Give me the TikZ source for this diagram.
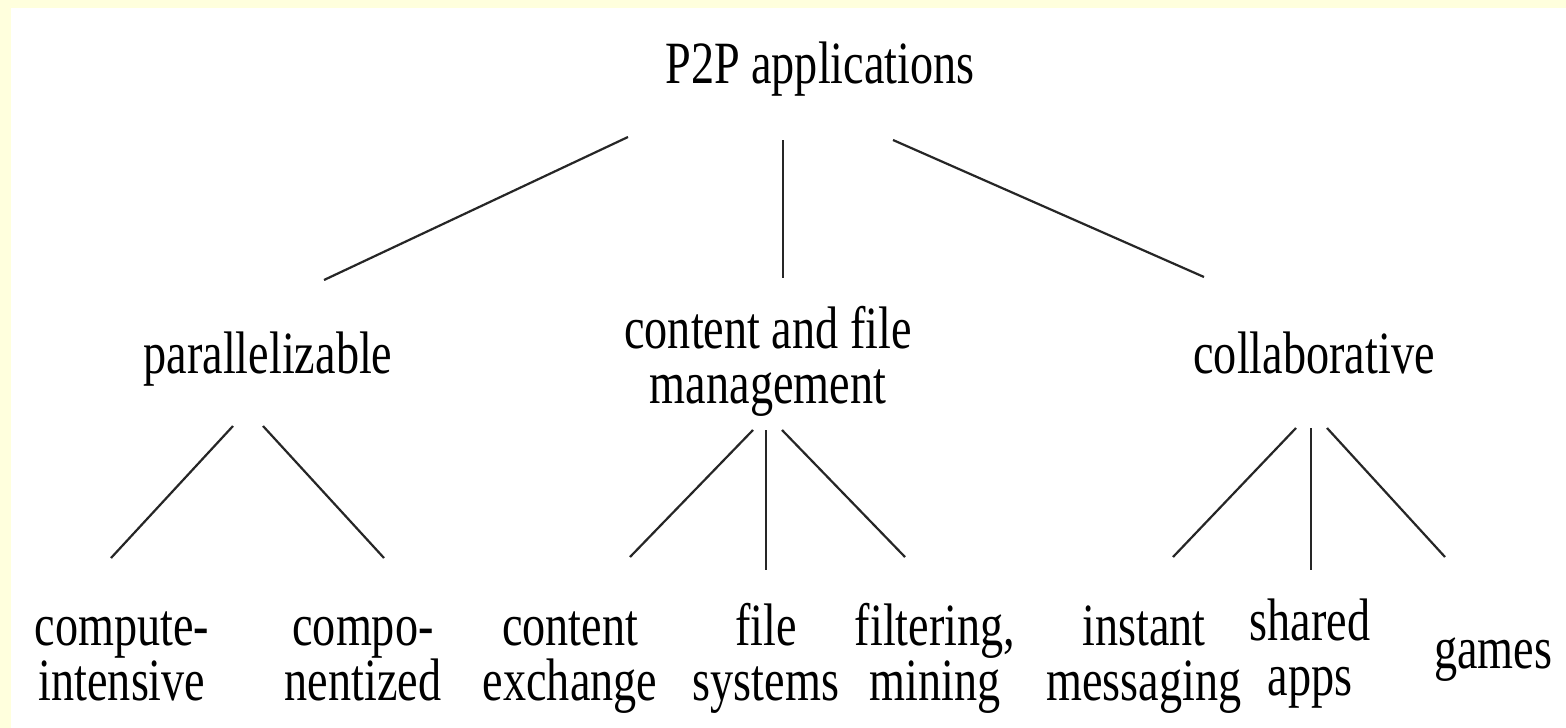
\documentclass[tikz,border=0pt]{standalone}
\usepackage{fontspec}
\setmainfont{Liberation Serif}[FakeStretch=0.77]
\definecolor{paleyellow}{RGB}{255,255,221}
\begin{document}
\begin{tikzpicture}[x=1pt,y=-1pt,
  lbl/.style={font=\fontsize{60}{55}\selectfont, inner sep=0pt, anchor=base, align=center},
  edge/.style={draw=black!85, line width=2.2pt}]
% page: pale yellow strip on the top and left, white sheet elsewhere
\fill[paleyellow] (0,0) rectangle (1566,728);
\fill[white] (11,8) rectangle (1566,728);
\useasboundingbox (0,0) rectangle (1566,728);

% tree labels (multi-line labels are placed by the baseline of their last line)
\node[lbl] (root) at (820,83) {P2P applications};
\node[lbl] (par) at (268,373) {parallelizable};
\node[lbl] (cfm) at (768,403) {content and file\\management};
\node[lbl] (col) at (1314,373) {collaborative};
\node[lbl] (ci) at (122,700) {compute-\\intensive};
\node[lbl] (cz) at (363,700) {compo-\\nentized};
\node[lbl] (ce) at (570,700) {content\\exchange};
\node[lbl] (fs) at (766,700) {file\\systems};
\node[lbl] (fm) at (935,700) {filtering,\\mining};
\node[lbl] (im) at (1144,700) {instant\\messaging};
\node[lbl] (sa) at (1310,695) {shared\\apps};
\node[lbl] (gm) at (1493,668) {games};

% end points of the branches
\coordinate (root-par) at (628,137);  \coordinate (par-top) at (324,280);
\coordinate (root-cfm) at (783,140);  \coordinate (cfm-top) at (783,278);
\coordinate (root-col) at (893,140);  \coordinate (col-top) at (1204,277);

\coordinate (par-ci) at (233,426);    \coordinate (ci-top) at (111,558);
\coordinate (par-cz) at (263,426);    \coordinate (cz-top) at (384,558);
\coordinate (cfm-ce) at (753,430);    \coordinate (ce-top) at (630,557);
\coordinate (cfm-fs) at (766,430);    \coordinate (fs-top) at (766,570);
\coordinate (cfm-fm) at (782,430);    \coordinate (fm-top) at (905,557);
\coordinate (col-im) at (1296,428);   \coordinate (im-top) at (1173,557);
\coordinate (col-sa) at (1311,428);   \coordinate (sa-top) at (1311,570);
\coordinate (col-gm) at (1327,428);   \coordinate (gm-top) at (1445,557);

% branches
\draw[edge] (root-par) -- (par-top);
\draw[edge] (root-cfm) -- (cfm-top);
\draw[edge] (root-col) -- (col-top);
\draw[edge] (par-ci) -- (ci-top);
\draw[edge] (par-cz) -- (cz-top);
\draw[edge] (cfm-ce) -- (ce-top);
\draw[edge] (cfm-fs) -- (fs-top);
\draw[edge] (cfm-fm) -- (fm-top);
\draw[edge] (col-im) -- (im-top);
\draw[edge] (col-sa) -- (sa-top);
\draw[edge] (col-gm) -- (gm-top);
\end{tikzpicture}
\end{document}
